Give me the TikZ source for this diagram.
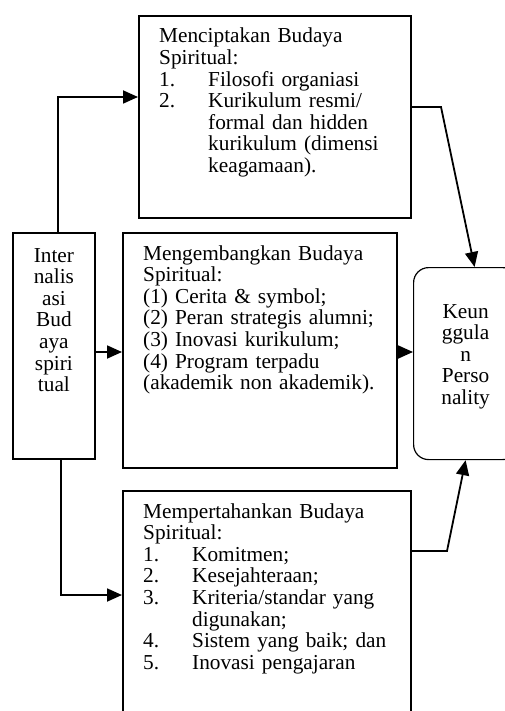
\documentclass[tikz,border=0pt]{standalone}
\usepackage{fontspec}
\setmainfont{Liberation Serif}
\usetikzlibrary{arrows.meta}
\newcommand{\butir}[2]{\makebox[49pt][l]{#1}#2}
\newcommand{\lanjut}{\hspace*{49pt}}
\begin{document}
\begin{tikzpicture}[x=1pt,y=-1pt]
  \tikzstyle{kotak}=[draw,line width=1.8pt,inner sep=0pt,anchor=north west]
  \tikzstyle{teks}=[inner sep=0pt,anchor=base west,text width=262pt,align=left,font=\fontsize{21.3}{21.6}\selectfont]
  \tikzstyle{sempit}=[inner sep=0pt,anchor=base,text width=80pt,align=center,font=\fontsize{21.3}{21.6}\selectfont]
  \tikzstyle{panah}=[line width=1.8pt,-{Triangle[length=15pt,width=13pt]}]
\useasboundingbox (0,0) rectangle (505,711);
\clip (0,0) rectangle (505,711);
\node[kotak,minimum width=272pt,minimum height=202pt] (cipta) at (138,15) {};
\node[kotak,minimum width=82pt,minimum height=226pt] (inter) at (12,232) {};
\node[kotak,minimum width=274pt,minimum height=235pt] (kembang) at (122,232) {};
\node[kotak,minimum width=288pt,minimum height=240pt] (tahan) at (122,490) {};
\node[kotak,rounded corners=15pt,line width=1.2pt,minimum width=104pt,minimum height=192pt] (keun) at (413,267) {};
\node[teks] (ciptateks) at ([shift={(21,28)}]cipta.north west) {Menciptakan Budaya\\
  Spiritual:\\
  \butir{1.}{Filosofi organiasi}\\
  \butir{2.}{\makebox[181pt][s]{Kurikulum resmi/}}\\
  \lanjut\makebox[181pt][s]{formal dan hidden}\\
  \lanjut\makebox[181pt][s]{kurikulum (dimensi}\\
  \lanjut keagamaan).};
\node[teks] (kembangteks) at ([shift={(21,28)}]kembang.north west) {Mengembangkan Budaya\\
  Spiritual:\\
  (1) Cerita \& symbol;\\
  (2) Peran strategis alumni;\\
  (3) Inovasi kurikulum;\\
  (4) Program terpadu\\
  (akademik non akademik).};
\node[teks] (tahanteks) at ([shift={(21,28)}]tahan.north west) {Mempertahankan Budaya\\
  Spiritual:\\
  \butir{1.}{Komitmen;}\\
  \butir{2.}{Kesejahteraan;}\\
  \butir{3.}{Kriteria/standar yang}\\
  \lanjut digunakan;\\
  \butir{4.}{Sistem yang baik; dan}\\
  \butir{5.}{Inovasi pengajaran}};
\node[sempit] (interteks) at ([shift={(0,30)}]inter.north) {Inter\\nalis\\asi\\Bud\\aya\\spiri\\tual};
\node[sempit] (keunteks) at ([shift={(0,51)}]keun.north) {Keun\\ggula\\n\\Perso\\nality};
\coordinate (atas) at (58,97);
\coordinate (bawah) at (61,595);
\coordinate (tengah) at (0,352);
\coordinate (tekuk1) at (441,107);
\coordinate (tekuk2) at (447,551);
\draw[panah] (inter.north -| atas) -- (atas) -- (atas -| cipta.west);
\draw[panah] (inter.south -| bawah) -- (bawah) -- (bawah -| tahan.west);
\draw[panah] (tengah -| inter.east) -- (tengah -| kembang.west);
\draw[panah] (tengah -| kembang.east) -- (tengah -| keun.west);
\draw[panah] (tekuk1 -| cipta.east) -- (tekuk1) -- ([xshift=9pt]keun.north);
\draw[panah] (tekuk2 -| tahan.east) -- (tekuk2) -- (keun.south);
\end{tikzpicture}
\end{document}
